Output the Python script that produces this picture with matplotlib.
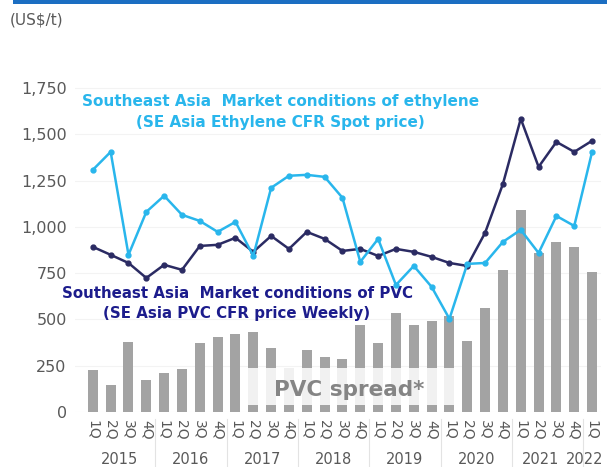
import numpy as np
import matplotlib.pyplot as plt
from matplotlib.patches import Rectangle
import matplotlib.transforms as mtransforms

# quarterly data, 1Q2015 .. 1Q2022 (US$/t)
quarters = ["1Q", "2Q", "3Q", "4Q"] * 7 + ["1Q"]
years = ["2015", "2016", "2017", "2018", "2019", "2020", "2021", "2022"]
spread = [227, 146, 378, 173, 211, 232, 373, 405, 421, 432, 346, 235, 335, 297,
          286, 470, 373, 535, 470, 492, 520, 384, 562, 768, 1092, 860, 919, 892, 757]
ethylene = [1308, 1405, 849, 1081, 1168, 1065, 1032, 973, 1027, 843, 1211, 1276,
            1281, 1270, 1157, 811, 935, 686, 789, 676, 503, 800, 805, 919, 984,
            859, 1059, 1005, 1405]
pvc = [892, 849, 805, 724, 795, 768, 897, 903, 941, 865, 951, 881, 973, 935, 870,
       881, 843, 881, 865, 838, 805, 789, 968, 1232, 1584, 1324, 1459, 1405, 1465]

c_eth = "#29B6EC"
c_pvc = "#2B2B63"
c_pvc_txt = "#1C1C8C"
c_bar = "#A3A3A3"
c_txt = "#595959"

x = np.arange(len(quarters))

fig = plt.figure(figsize=(6.07, 4.67), dpi=100)
ax = fig.add_axes([75 / 607, 55 / 467, 526 / 607, 342.5 / 467])

ax.bar(x, spread, width=0.56, color=c_bar, zorder=2)
ax.plot(x, pvc, color=c_pvc, lw=1.8, marker="o", ms=3.5, zorder=4)
ax.plot(x, ethylene, color=c_eth, lw=1.8, marker="o", ms=3.5, zorder=5)

# box behind the spread label
ax.add_patch(Rectangle((8.6, 40), 11.9, 200, facecolor="white", alpha=0.85,
                       edgecolor="none", zorder=3))
ax.text(14.4, 120, "PVC spread*", fontsize=15.5, fontweight="bold",
        color="#858585", ha="center", va="center", zorder=6)

ax.set_xlim(-1, 28.5)
ax.set_ylim(0, 1850)
ax.set_yticks(range(0, 1751, 250))
ax.set_yticklabels([f"{v:,}" for v in range(0, 1751, 250)])
ax.grid(axis="y", color="#F3F3F3", lw=0.8, zorder=0)
ax.set_axisbelow(True)
for s in ax.spines.values():
    s.set_visible(False)
ax.tick_params(axis="y", length=0, labelsize=11.5, labelcolor=c_txt, pad=6)
ax.set_xticks(x)
ax.set_xticklabels(quarters, rotation=-90, fontsize=10, color=c_txt)
ax.tick_params(axis="x", length=0, pad=6)

# year labels and separators under the quarter ticks
trans = mtransforms.blended_transform_factory(ax.transData, ax.transAxes)
for i, yr in enumerate(years):
    first = i * 4
    last = min(first + 3, len(quarters) - 1)
    if first == last:
        # single quarter at the right edge: keep the label inside the figure
        ax.text(28.65, -0.138, yr, transform=trans, ha="right",
                va="center", fontsize=10.5, color=c_txt, clip_on=False)
    else:
        xc = (first + last) / 2
        if last + 1 == len(quarters) - 1:
            xc -= 0.4  # make room for the last label
        ax.text(xc, -0.138, yr, transform=trans, ha="center",
                va="center", fontsize=10.5, color=c_txt)
    if i > 0:
        ax.plot([first - 0.5, first - 0.5], [-0.02, -0.17], transform=trans,
                color="#E3E3E3", lw=0.8, clip_on=False)

ax.text(0.39, 0.877, "Southeast Asia  Market conditions of ethylene\n"
        "(SE Asia Ethylene CFR Spot price)", transform=ax.transAxes,
        ha="center", va="center", fontsize=11, fontweight="bold",
        color=c_eth, linespacing=1.5)
ax.text(0.308, 0.316, "Southeast Asia  Market conditions of PVC\n"
        "(SE Asia PVC CFR price Weekly)", transform=ax.transAxes,
        ha="center", va="center", fontsize=10.8, fontweight="bold",
        color=c_pvc_txt, linespacing=1.4)

fig.text(10 / 607, 1 - 20 / 467, "(US$/t)", fontsize=11, color=c_txt,
         va="center", ha="left")
fig.patches.append(Rectangle((13 / 607, 1 - 4 / 467), 1, 4 / 467,
                             transform=fig.transFigure, facecolor="#1B6EC2",
                             edgecolor="none"))

fig.savefig("out.png", dpi=100)
